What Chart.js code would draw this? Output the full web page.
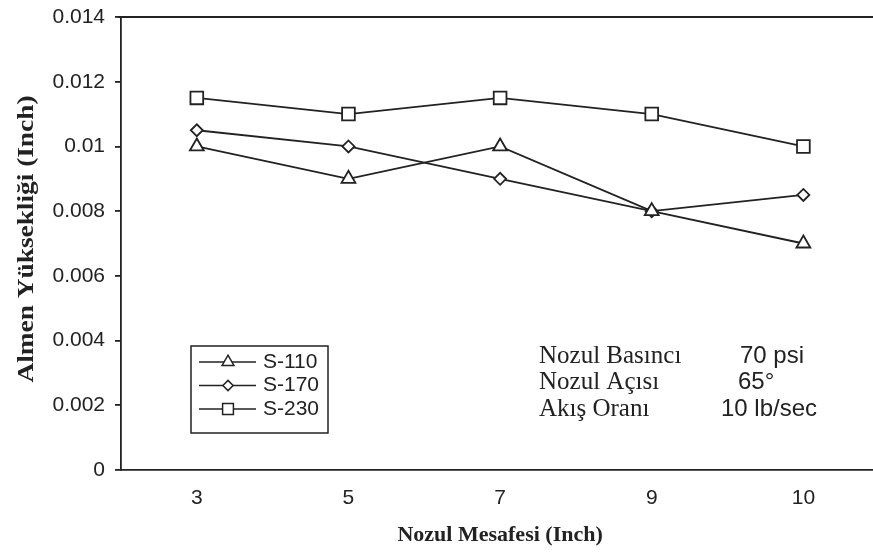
<!DOCTYPE html>
<html>
<head>
    <meta charset="utf-8">
    <title>Almen Yüksekliği - Nozul Mesafesi</title>
    <style>
        html, body { margin: 0; padding: 0; background: #fff; overflow: hidden; }
        #wrap { width: 890px; height: 557px; }
    </style>
</head>
<body>
    <div id="wrap"><canvas id="almenChart"></canvas></div>

    <script src="https://cdn.jsdelivr.net/npm/chart.js"></script>
    <script>
        // Veriler
        const mesafeler = ['3', '5', '7', '9', '10'];
        const s110 = [0.010, 0.009, 0.010, 0.008, 0.007];
        const s170 = [0.0105, 0.010, 0.009, 0.008, 0.0085];
        const s230 = [0.0115, 0.011, 0.0115, 0.011, 0.010];
        const seriAdlari = ['S-110', 'S-170', 'S-230'];
        const yTicks = [0, 0.002, 0.004, 0.006, 0.008, 0.01, 0.012, 0.014];

        // Test koşulları kutusu
        const kosulAdlari = ['Nozul Basıncı', 'Nozul Açısı', 'Akış Oranı'];
        const kosulDegerleri = ['70 psi', '65°', '10 lb/sec'];

        const yBaslik = 'Almen Yüksekliği (Inch)';
        const koyu = '#222';
        const sans = '"Liberation Sans", Arial, sans-serif';
        const serif = '"Liberation Serif", "Times New Roman", serif';

        function seri(label, data, style, radius) {
            return {
                label: label,
                data: data,
                borderColor: koyu,
                borderWidth: 1.8,
                backgroundColor: '#fff',
                pointStyle: style,
                pointRadius: radius,
                pointHoverRadius: radius,
                pointBorderColor: koyu,
                pointBorderWidth: 1.8,
                pointBackgroundColor: '#fff',
                tension: 0
            };
        }

        // Üst çerçeve çizgisi, y başlığı, lejant kutusu ve koşul yazıları
        const ekler = {
            id: 'ekler',
            afterDraw(chart) {
                const ctx = chart.ctx;
                const a = chart.chartArea;
                ctx.save();

                // üst kenar
                ctx.strokeStyle = koyu;
                ctx.lineWidth = 1.8;
                ctx.beginPath();
                ctx.moveTo(a.left - 3, a.top);
                ctx.lineTo(chart.width, a.top);
                ctx.stroke();

                // y ekseni başlığı (dikeyde biraz uzatılmış)
                ctx.save();
                ctx.font = 'bold 23px ' + serif;
                ctx.fillStyle = koyu;
                ctx.textAlign = 'center';
                ctx.textBaseline = 'middle';
                ctx.translate(27, 239);
                ctx.rotate(-Math.PI / 2);
                const w = ctx.measureText(yBaslik).width;
                ctx.scale(287 / w, 1);
                ctx.fillText(yBaslik, 0, 0);
                ctx.restore();

                // lejant
                const bx = 191, by = 346, bw = 137, bh = 87;
                ctx.lineWidth = 1.5;
                ctx.strokeRect(bx, by, bw, bh);
                ctx.font = '21px ' + sans;
                ctx.textBaseline = 'middle';
                chart.data.datasets.forEach((ds, i) => {
                    const y = by + 16 + i * 23.5;
                    ctx.lineWidth = 1.5;
                    ctx.beginPath();
                    ctx.moveTo(bx + 8, y);
                    ctx.lineTo(bx + 65, y);
                    ctx.stroke();
                    ctx.fillStyle = '#fff';
                    Chart.helpers.drawPoint(ctx, {
                        pointStyle: ds.pointStyle,
                        radius: ds.pointRadius * 0.85,
                        borderWidth: 1.5
                    }, bx + 37, y);
                    ctx.fillStyle = koyu;
                    ctx.fillText(ds.label, bx + 72, y);
                });

                // koşullar
                const degerX = [740, 738, 721];
                kosulAdlari.forEach((ad, i) => {
                    const y = 356 + i * 26.5;
                    ctx.font = '25px ' + serif;
                    ctx.fillText(ad, 539, y);
                    ctx.font = '24px ' + sans;
                    ctx.fillText(kosulDegerleri[i], degerX[i], y);
                });
                ctx.restore();
            }
        };

        const ctx = document.getElementById('almenChart').getContext('2d');
        Chart.defaults.color = koyu;

        new Chart(ctx, {
            type: 'line',
            data: {
                labels: mesafeler,
                datasets: [
                    seri(seriAdlari[0], s110, 'triangle', 8),
                    seri(seriAdlari[1], s170, 'rectRot', 6),
                    seri(seriAdlari[2], s230, 'rect', 9)
                ]
            },
            plugins: [ekler],
            options: {
                responsive: true,
                maintainAspectRatio: false,
                animation: false,
                events: [],
                layout: { padding: { top: 17, right: 6, left: 0, bottom: 0 } },
                plugins: {
                    legend: { display: false },
                    tooltip: { enabled: false }
                },
                scales: {
                    x: {
                        offset: true,
                        grid: { display: false, drawTicks: false },
                        border: { display: true, color: koyu, width: 1.8 },
                        ticks: {
                            padding: 16,
                            font: { family: sans, size: 21 }
                        },
                        title: {
                            display: true,
                            text: 'Nozul Mesafesi (Inch)',
                            padding: { top: 4, bottom: 8 },
                            font: { family: serif, size: 22, weight: 'bold' }
                        },
                        afterFit(scale) { scale.height = 87; }
                    },
                    y: {
                        min: 0,
                        max: 0.014,
                        afterBuildTicks(scale) {
                            scale.ticks = yTicks.map(v => ({ value: v }));
                        },
                        grid: {
                            drawOnChartArea: false,
                            drawTicks: true,
                            tickLength: 6,
                            color: koyu,
                            lineWidth: 1.8
                        },
                        border: { display: true, color: koyu, width: 1.8 },
                        ticks: {
                            padding: 10,
                            callback: v => String(parseFloat(Number(v).toFixed(3))),
                            font: { family: sans, size: 21 }
                        },
                        title: { display: false },
                        afterFit(scale) {
                            scale.width = 121;
                            scale.paddingTop = 0;
                            scale.paddingBottom = 0;
                        }
                    }
                }
            }
        });
    </script>
</body>
</html>
